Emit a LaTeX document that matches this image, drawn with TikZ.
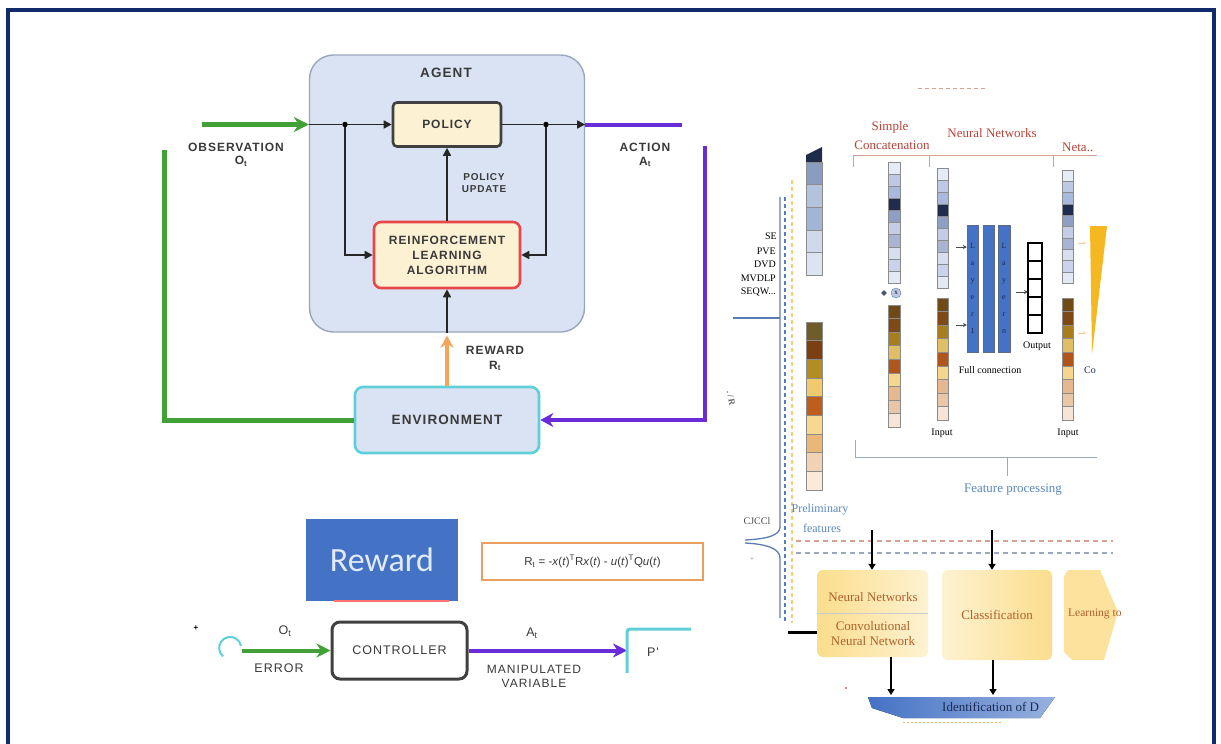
\documentclass[tikz,border=0pt]{standalone}
\usepackage{fontspec}
\setmainfont{Liberation Serif}
\newfontfamily\rlf{Liberation Sans}[LetterSpace=8]
\newfontfamily\sff{Liberation Sans}
\newfontfamily\calf{Carlito}
\usetikzlibrary{arrows.meta,calc,shapes.geometric}
\definecolor{navy}{HTML}{102A6B}
\definecolor{agentfill}{HTML}{DAE3F3}
\definecolor{agentdraw}{HTML}{9AA6BC}
\definecolor{beige}{HTML}{FCF1D2}
\definecolor{boxgray}{HTML}{404040}
\definecolor{rlred}{HTML}{E8474A}
\definecolor{envcyan}{HTML}{5FD0D8}
\definecolor{rlgreen}{HTML}{41A036}
\definecolor{rlpurple}{HTML}{6A2BD8}
\definecolor{rlorange}{HTML}{F4A55A}
\definecolor{txtgray}{HTML}{3A3A3A}
\definecolor{rewblue}{HTML}{4472C4}
\definecolor{rewtext}{HTML}{E2EAF7}
\definecolor{formorange}{HTML}{E8A060}
\definecolor{hdrred}{HTML}{B8433A}
\definecolor{hdrline}{HTML}{D8A090}
\definecolor{nnblue}{HTML}{5B88C0}
\definecolor{bracegray}{HTML}{9AA8C0}
\definecolor{braceblue}{HTML}{5B7DB5}
\definecolor{boxtxt}{HTML}{B0602A}
\definecolor{ylA}{HTML}{FBDD8C}
\definecolor{ylB}{HTML}{FDF2D2}
\definecolor{layblue}{HTML}{4472C4}
\definecolor{darknavy}{HTML}{1B2A55}
\definecolor{triyel}{HTML}{F5B820}
% cells
\definecolor{pb0}{HTML}{1E2B4A}
\definecolor{pb1}{HTML}{8A9DC0}
\definecolor{pb2}{HTML}{B3C2DD}
\definecolor{pb3}{HTML}{A3B5D6}
\definecolor{pb4}{HTML}{CFD9EC}
\definecolor{pb5}{HTML}{DCE4F2}
\definecolor{pr1}{HTML}{6E5C2A}
\definecolor{pr2}{HTML}{7B3F12}
\definecolor{pr3}{HTML}{B38D22}
\definecolor{pr4}{HTML}{F2CA6E}
\definecolor{pr5}{HTML}{BF5E1C}
\definecolor{pr6}{HTML}{F8D78E}
\definecolor{pr7}{HTML}{E9B877}
\definecolor{pr8}{HTML}{F1D2B4}
\definecolor{pr9}{HTML}{FBEAD9}
\definecolor{cb1}{HTML}{E6ECF6}
\definecolor{cb2}{HTML}{BCC8E4}
\definecolor{cb3}{HTML}{A9B9DD}
\definecolor{cb4}{HTML}{1F2C4D}
\definecolor{cb5}{HTML}{8E9FC4}
\definecolor{cb6}{HTML}{C3CEE6}
\definecolor{cb7}{HTML}{A7B5D3}
\definecolor{cb8}{HTML}{D7DFEF}
\definecolor{cb9}{HTML}{C9D3EA}
\definecolor{cb10}{HTML}{E2E8F4}
\definecolor{cr1}{HTML}{6F4A17}
\definecolor{cr2}{HTML}{7C4A12}
\definecolor{cr3}{HTML}{A87E1C}
\definecolor{cr4}{HTML}{E0BE66}
\definecolor{cr5}{HTML}{B0561A}
\definecolor{cr6}{HTML}{F5D68E}
\definecolor{cr7}{HTML}{E5B890}
\definecolor{cr8}{HTML}{E9C6A8}
\definecolor{cr9}{HTML}{F6E4D6}
\newcommand\colstack[6]{%
  \foreach \cc [count=\ii from 0] in {#6}{%
    \draw[cellline,fill=\cc] (#1,{#3+(#4-#3)*\ii/#5}) rectangle ({#1+#2},{#3+(#4-#3)*(\ii+1)/#5});
  }}
\begin{document}
\begin{tikzpicture}[x=1pt,y=-1pt,
  rlt/.style={font=\rlf\bfseries\fontsize{12}{15}\selectfont,text=txtgray,align=center,inner sep=0pt},
  rls/.style={font=\rlf\bfseries\fontsize{10}{12}\selectfont,text=txtgray,align=center,inner sep=0pt},
  ctt/.style={font=\rlf\fontsize{12.5}{14}\selectfont,text=txtgray,align=center,inner sep=0pt},
  blk/.style={draw=black!85,line width=1.6pt,-{Triangle[length=8pt,width=8pt]}},
  blkline/.style={draw=black!85,line width=1.6pt},
  dotn/.style={circle,fill=black,inner sep=0pt,minimum size=5.5pt},
  grn/.style={draw=rlgreen,line width=5pt},
  pur/.style={draw=rlpurple,line width=4pt},
  cellline/.style={draw=black!45,line width=0.4pt},
  serift/.style={font=\fontsize{13}{15}\selectfont,inner sep=0pt,align=center},
  smallt/.style={font=\fontsize{10}{12}\selectfont,inner sep=0pt,align=center},
  thickarrow/.style={draw=black,line width=2.6pt,-{Triangle[length=6pt,width=7pt]}}
]
\useasboundingbox (0,0) rectangle (1221,744);
\fill[white] (0,0) rectangle (1221,744);
\draw[navy,line width=3.2pt] (8,750) -- (8,10) -- (1214,10) -- (1214,750);

%% ================= RL diagram =================
\node[draw=agentdraw,fill=agentfill,line width=1.4pt,rounded corners=24pt,
      minimum width=275,minimum height=277,inner sep=0pt] (agent) at (447,193.5) {};
\node[rlt,font=\rlf\bfseries\fontsize{13.5}{15}\selectfont] (agentlbl) at (446,73) {AGENT};
\node[rlt,draw=boxgray,fill=beige,line width=2.6pt,rounded corners=4pt,
      minimum width=108,minimum height=44] (policy) at (447,124.5) {POLICY};
\node[rlt,draw=rlred,fill=beige,line width=2.6pt,rounded corners=7pt,
      minimum width=146,minimum height=66] (rl) at (447,255) {REINFORCEMENT\\LEARNING\\ALGORITHM};
\node[rlt,font=\rlf\bfseries\fontsize{13.5}{15}\selectfont,draw=envcyan,fill=agentfill,line width=2.6pt,rounded corners=8pt,
      minimum width=184,minimum height=66] (env) at (447,420) {ENVIRONMENT};

\node[dotn] (d1) at (345,124.5) {};
\node[dotn] (d2) at (546,124.5) {};
\coordinate (gin) at (agent.west |- policy.west);
\coordinate (aout) at (agent.east |- policy.east);
\coordinate (gstart) at (202,124.5);
\coordinate (pend) at (682,124.5);
\coordinate (gtop) at (164,150);
\coordinate (ptop) at (705,146);

\draw[blkline] (gin) -- (d1);
\draw[blk] (d1) -- (policy.west);
\draw[blk] (d1) |- (rl.west);
\draw[blkline] (policy.east) -- (d2);
\draw[blk] (d2) -- (aout);
\draw[blk] (d2) |- (rl.east);
\draw[blk] (rl.north) -- (policy.south);
\draw[blk] (rl.south |- agent.south) -- (rl.south);
\draw[draw=rlorange,line width=4pt,-{Stealth[length=12pt,width=13pt]}] (env.north) -- ($(env.north |- agent.south)+(0,3)$);
\draw[grn,-{Stealth[length=15pt,width=15pt]}] (gstart) -- (gin);
\draw[grn] (env.west) -| (gtop);
\draw[pur] (aout) -- (pend);
\draw[pur,-{Stealth[length=13pt,width=14pt]}] (ptop) |- (env.east);

\node[rlt] (obs) at (236,147) {OBSERVATION};
\node[rlt] (obst) at (241,161) {O\textsubscript{t}};
\node[rlt] (act) at (645,147) {ACTION};
\node[rlt] (actt) at (645,162) {A\textsubscript{t}};
\node[rls] (pupd) at (484,183) {POLICY\\UPDATE};
\node[rlt] (rew) at (495,350) {REWARD};
\node[rlt] (rewt) at (495,366) {R\textsubscript{t}};

%% ================= bottom-left =================
\node[fill=rewblue,minimum width=152,minimum height=82,inner sep=0pt,
      font=\calf\fontsize{34}{40}\selectfont,text=rewtext] (rewbox) at (382,560) {Reward};
\draw[draw=red!55,line width=1.5pt] ($(rewbox.south west)+(28,0)$) -- ($(rewbox.south east)+(-9,0)$);
\node[draw=formorange,line width=2.6pt,minimum width=221,minimum height=37,inner sep=0pt,
      font=\sff\fontsize{11.5}{13}\selectfont,text=txtgray] (formula) at (592.5,561.5)
  {R\textsubscript{t} = -\textit{x}(\textit{t})\textsuperscript{T}R\textit{x}(\textit{t}) - \textit{u}(\textit{t})\textsuperscript{T}Q\textit{u}(\textit{t})};
\node[ctt,draw=boxgray,fill=white,line width=3pt,rounded corners=8pt,
      minimum width=135,minimum height=57] (ctrl) at (399.5,650.5) {CONTROLLER};
\coordinate (errin) at (242,650.5);
\coordinate (plin) at (627,650.5);
\draw[draw=envcyan,line width=2pt] (241,646) arc[start angle=-10,end angle=-230,radius=11];
\draw[grn,line width=4pt,-{Stealth[length=14pt,width=14pt]}] (errin) -- (ctrl.west);
\draw[pur,line width=4pt,-{Stealth[length=14pt,width=14pt]}] (ctrl.east) -- (plin);
\draw[draw=envcyan,line width=3pt,rounded corners=3pt] (691,629) -- (627,629) -- (627,673);
\node[ctt] (ot2) at (285,631) {O\textsubscript{t}};
\node[ctt] (err) at (279,668) {ERROR};
\node[ctt] (at2) at (532,633) {A\textsubscript{t}};
\node[ctt,font=\rlf\fontsize{12}{14}\selectfont] (mv) at (534,676) {MANIPULATED\\VARIABLE};
\node[ctt] (plant) at (653,652) {P'};
\node[font=\sff\bfseries\fontsize{8}{8}\selectfont,inner sep=0pt] (plus) at (196,628) {+};

%% ================= right: NN diagram =================
% header
\draw[draw=hdrline,line width=1pt,dash pattern=on 4pt off 3pt] (918,88) -- (987,88);
\node[serift,text=hdrred] (simple) at (890,127) {Simple};
\node[serift,text=hdrred] (concat) at (892,145) {Concatenation};
\node[serift,text=hdrred] (nnhdr) at (992,133) {Neural Networks};
\node[serift,text=hdrred,anchor=west] (neta) at (1062,147) {Neta..};
\draw[draw=hdrline,line width=1pt] (853,167) -- (853,155) -- (1097,155);
\draw[draw=hdrline,line width=1pt] (929,155) -- (929,167);
\draw[draw=hdrline,line width=1pt] (1053,155) -- (1053,167);

% vertical guide lines and braces
\draw[draw=braceblue,line width=1.2pt,dash pattern=on 4pt off 3pt] (785,197) -- (785,623);
\draw[draw=ylA!80!orange,line width=1.2pt,dash pattern=on 4pt off 3pt] (792,180) -- (792,623);
\draw[draw=braceblue,line width=1.3pt] (780,197) -- (780,527) .. controls (780,536) and (765,539) .. (745,540);
\draw[draw=braceblue,line width=1.3pt] (745,543) .. controls (765,544) and (780,548) .. (780,558) -- (780,618);
\draw[draw=braceblue,line width=1.3pt] (733,318) -- (780,318);

% labels on the left
\node[smallt,anchor=east] (l1) at (777,236) {SE};
\node[smallt,anchor=east] (l2) at (776,251) {PVE};
\node[smallt,anchor=east] (l3) at (776,264) {DVD};
\node[smallt,anchor=east] (l4) at (776,278) {MVDLP};
\node[smallt,anchor=east] (l5) at (776,292) {SEQW...};
\node[smallt,rotate=-80,text=black!60,font=\bfseries\fontsize{9}{9}\selectfont] (rotl) at (731,398) {.\,/\,R};
\node[smallt,text=black!70] (cjcc) at (757,521) {CJCCl};
\node[smallt,text=black!50,font=\fontsize{7}{7}\selectfont] (bplus) at (752,560) {+};

% preliminary feature column
\fill[pb0] (806,155) -- (822,147) -- (822,162) -- (806,162) -- cycle;
\colstack{806}{16}{162}{275}{5}{pb1,pb2,pb3,pb4,pb5}
\colstack{806}{16}{322}{490}{9}{pr1,pr2,pr3,pr4,pr5,pr6,pr7,pr8,pr9}
\node[serift,text=nnblue,font=\fontsize{12}{14}\selectfont] (prelim) at (820,510) {Preliminary};
\node[serift,text=nnblue,font=\fontsize{12}{14}\selectfont] (feat) at (822,528) {features};

% concat column
\colstack{888}{12}{162}{283}{10}{cb1,cb2,cb3,cb4,cb5,cb6,cb7,cb8,cb9,cb10}
\colstack{888}{12}{305}{427}{9}{cr1,cr2,cr3,cr4,cr5,cr6,cr7,cr8,cr9}
\node[diamond,fill=darknavy!80,inner sep=0pt,minimum size=6pt] (cplus) at (884,293) {};
\node[circle,draw=braceblue,fill=cb2,inner sep=0pt,minimum size=10pt,font=\fontsize{7}{7}\selectfont] (ctimes) at (896,293) {x};

% NN input column
\colstack{937}{11}{168}{288}{10}{cb1,cb2,cb3,cb4,cb5,cb6,cb7,cb8,cb9,cb10}
\colstack{937}{11}{298}{420}{9}{cr1,cr2,cr3,cr4,cr5,cr6,cr7,cr8,cr9}
\node[smallt] (in1) at (942,433) {Input};

% layers
\node[draw=darknavy!70,fill=layblue,minimum width=11,minimum height=127,inner sep=0pt,
      font=\fontsize{8}{17}\selectfont,text=darknavy,align=center] (lay1) at (972.5,288.5) {L\\a\\y\\e\\r\\1};
\node[draw=darknavy!70,fill=layblue,minimum width=11,minimum height=127,inner sep=0pt] (lay2) at (988.5,288.5) {};
\node[draw=darknavy!70,fill=layblue,minimum width=12,minimum height=127,inner sep=0pt,
      font=\fontsize{8}{17}\selectfont,text=darknavy,align=center] (lay3) at (1004,288.5) {L\\a\\y\\e\\r\\n};
\coordinate (a1s) at (956,247);
\coordinate (a2s) at (956,325);
\draw[draw=black!70,line width=0.8pt,-{Stealth[length=4pt,width=4pt]}] (a1s) -- (a1s -| lay1.west);
\draw[draw=black!70,line width=0.8pt,-{Stealth[length=4pt,width=4pt]}] (a2s) -- (a2s -| lay1.west);
% output
\foreach \k in {0,...,4}{
  \draw[draw=black,line width=1.1pt,fill=white] (1028,{243+18*\k}) rectangle (1042,{261+18*\k});
}
\coordinate (outl) at (1028,292);
\draw[draw=black!70,line width=0.8pt,-{Stealth[length=4pt,width=4pt]}] (1016,292) -- (outl);
\node[smallt] (outlbl) at (1037,346) {Output};
\node[smallt] (fc) at (990,370) {Full connection};

% right input column
\colstack{1062}{11}{170}{283}{10}{cb1,cb2,cb3,cb4,cb5,cb6,cb7,cb8,cb9,cb10}
\colstack{1062}{11}{298}{420}{9}{cr1,cr2,cr3,cr4,cr5,cr6,cr7,cr8,cr9}
\node[smallt] (in2) at (1068,433) {Input};
\fill[draw=none,fill=triyel] (1090,226) -- (1107,226) -- (1092,354) -- cycle;
\draw[draw=orange!40,line width=0.6pt,-{Stealth[length=3pt,width=3pt]}] (1078,243) -- (1086,243);
\draw[draw=orange!40,line width=0.6pt,-{Stealth[length=3pt,width=3pt]}] (1078,333) -- (1086,333);
\node[smallt,text=darknavy] (co) at (1090,370) {Co};

% feature processing bracket
\draw[draw=bracegray,line width=1pt] (855,440) -- (855,457) -- (1097,457);
\draw[draw=bracegray,line width=1pt] (1007,457) -- (1007,476);
\node[serift,text=nnblue] (fp) at (1013,490) {Feature processing};

% dashed separators
\draw[draw=hdrline,line width=1.1pt,dash pattern=on 5pt off 4pt] (796,541) -- (1113,541);
\draw[draw=bracegray,line width=1.1pt,dash pattern=on 5pt off 4pt] (796,553) -- (1113,553);

% lower boxes
\node[left color=ylA,right color=ylB,rounded corners=6pt,minimum width=111,minimum height=87,inner sep=0pt] (nnbox) at (872.5,613.5) {};
\draw[draw=black!20,line width=0.8pt] (nnbox.west) -- (nnbox.east);
\node[serift,text=boxtxt] (nnt1) at (873,597) {Neural Networks};
\node[serift,text=boxtxt] (nnt2) at (873,634) {Convolutional\\Neural Network};
\node[serift,text=boxtxt,left color=ylB,right color=ylA,rounded corners=6pt,minimum width=110,minimum height=90] (cls) at (997,615) {Classification};
\fill[ylA!85!white] (1068,570) -- (1100,570) -- (1118,612) -- (1104,660) -- (1072,660) -- (1064,652) -- (1064,576) -- cycle;
\node[serift,anchor=west,text=boxtxt,font=\fontsize{11.5}{13}\selectfont] (learn) at (1068,614) {Learning to};

\coordinate (t1) at (872,530);
\coordinate (t2) at (992,530);
\draw[thickarrow] (t1) -- (t1 |- nnbox.north);
\draw[thickarrow] (t2) -- (t2 |- cls.north);
\coordinate (lk) at (788,632);
\draw[draw=black,line width=3pt] (lk) -- (lk -| nnbox.west);

% banner
\fill[left color=rewblue,right color=rewblue!55!white] (868,697) -- (1055,697) -- (1040,718) -- (903,718) -- (872,708) -- cycle;
\node[serift,text=darknavy,anchor=west] (ident) at (942,707) {Identification of D};
\coordinate (b1) at (891,657);
\coordinate (b2) at (993,660);
\draw[thickarrow] (b1) -- (891,695);
\draw[thickarrow] (b2) -- (993,695);
\draw[draw=orange!60,line width=1pt,dash pattern=on 1.5pt off 2.5pt] (903,722) -- (1003,722);
\fill[red!70] (846,688) circle[radius=1.2];
\end{tikzpicture}
\end{document}
